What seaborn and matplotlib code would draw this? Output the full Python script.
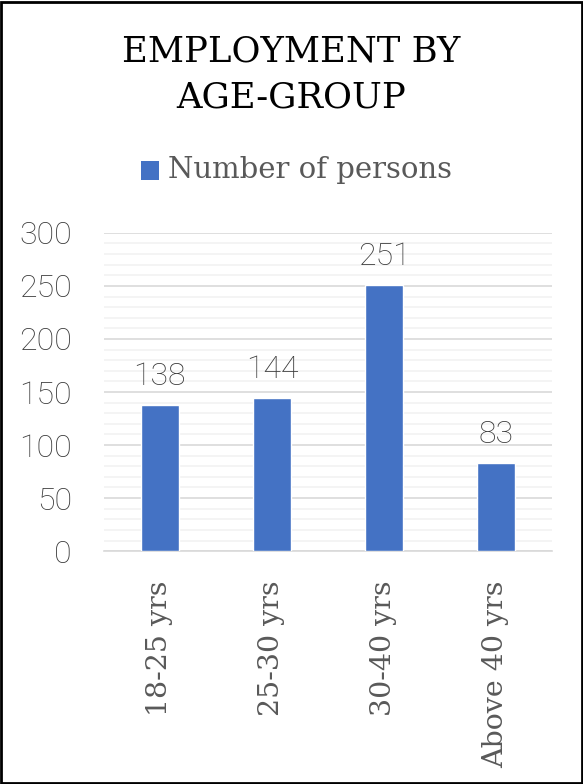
import matplotlib
matplotlib.use("Agg")
import matplotlib.pyplot as plt
from matplotlib.patches import Rectangle
from matplotlib.ticker import MultipleLocator
import seaborn as sns
import pandas as pd

categories = ["18-25 yrs", "25-30 yrs", "30-40 yrs", "Above 40 yrs"]
persons = [138, 144, 251, 83]
series_name = "Number of persons"
title = "EMPLOYMENT BY\nAGE-GROUP"

sns.set_theme(style="white")
plt.rcParams["font.family"] = ["DejaVu Serif"]

df = pd.DataFrame({"group": categories, "persons": persons})

fig = plt.figure(figsize=(5.83, 7.84), dpi=100)
ax = fig.add_axes([0.178, 0.297, 0.769, 0.406])

bar_color = "#4472C4"
text_grey = "#595959"
number_grey = "#3A3A3A"

sns.barplot(data=df, x="group", y="persons", color=bar_color, width=0.34,
            saturation=1, ax=ax, zorder=3)

ax.set_ylim(0, 300)
ax.set_xlim(-0.5, len(categories) - 0.5)
ax.yaxis.set_major_locator(MultipleLocator(50))
ax.yaxis.set_minor_locator(MultipleLocator(10))
ax.grid(which="major", axis="y", color="#D9D9D9", linewidth=1.2, zorder=0)
ax.grid(which="minor", axis="y", color="#F2F2F2", linewidth=1.2, zorder=0)
ax.set_axisbelow(True)

for side in ["top", "right", "left"]:
    ax.spines[side].set_visible(False)
ax.spines["bottom"].set_color("#D9D9D9")
ax.spines["bottom"].set_linewidth(1.2)

ax.set_xlabel("")
ax.set_ylabel("")
ax.tick_params(axis="both", which="both", length=0)
ax.tick_params(axis="y", pad=23)
ax.tick_params(axis="x", pad=21)
for lbl in ax.get_yticklabels():
    lbl.set_fontfamily("Roboto")
    lbl.set_fontweight("light")
    lbl.set_fontsize(23)
    lbl.set_color(number_grey)
for lbl in ax.get_xticklabels():
    lbl.set_rotation(90)
    lbl.set_fontsize(20.5)
    lbl.set_color(text_grey)
    lbl.set_va("top")

for container in ax.containers:
    ax.bar_label(container, labels=[str(v) for v in persons], padding=10,
                 fontsize=23, color=number_grey, family="Roboto", fontweight="light")

fig.text(0.5, 0.905, title, ha="center", va="center", fontsize=25.5,
         color="black", linespacing=1.45)

# legend entry: blue square swatch followed by the series name
fig.patches.append(Rectangle((0.241, 0.771), 0.032, 0.024, transform=fig.transFigure,
                             facecolor=bar_color, edgecolor="none"))
fig.text(0.288, 0.783, series_name, ha="left", va="center", fontsize=21,
         color=text_grey)

# chart border
fig.patches.append(Rectangle((0.001, 0.001), 0.997, 0.997, transform=fig.transFigure,
                             facecolor="none", edgecolor="black", linewidth=2))

fig.savefig("out.png", dpi=100)
